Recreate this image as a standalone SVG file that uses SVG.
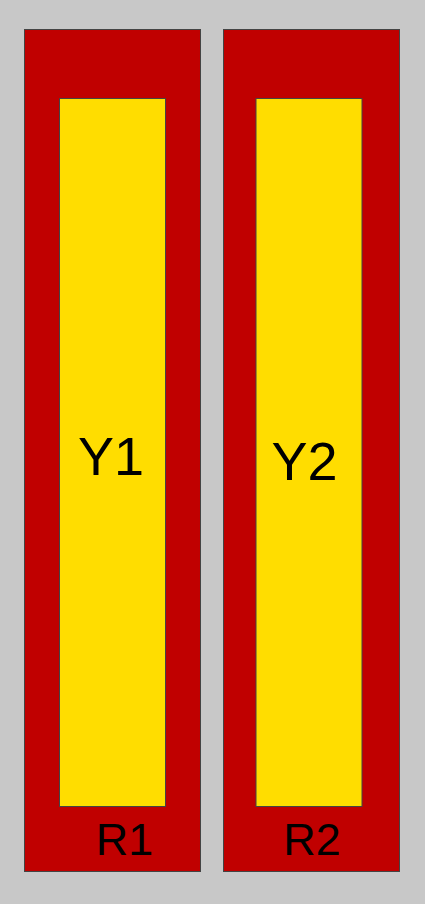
<svg xmlns="http://www.w3.org/2000/svg" width="425" height="904" viewBox="0 0 425 904">
<style>
.r{fill:#c00000;stroke:#444;stroke-width:1}
.y{fill:#ffdd00;stroke:#444;stroke-width:1}
.t{font-family:"Liberation Sans",Arial,sans-serif;fill:#000;text-anchor:middle}
</style>
<rect width="425" height="904" fill="#c8c8c8"/>
<g id="R1">
<rect class="r" x="24.5" y="29.5" width="176" height="842"/>
<text class="t" x="124.5" y="855" font-size="45">R1</text>
</g>
<g id="R2">
<rect class="r" x="223.5" y="29.5" width="176" height="842"/>
<text class="t" x="312" y="855" font-size="45">R2</text>
</g>
<g id="Y1">
<rect class="y" x="59.5" y="98.5" width="106" height="708"/>
<text class="t" x="111" y="475" font-size="54">Y1</text>
</g>
<g id="Y2">
<rect class="y" x="256" y="98.5" width="106" height="708"/>
<text class="t" x="304.5" y="480" font-size="54">Y2</text>
</g>
<g id="connectors"></g>
</svg>
